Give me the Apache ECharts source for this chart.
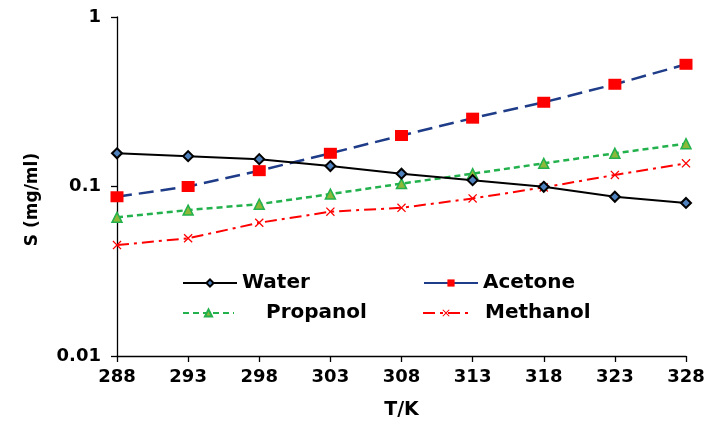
<!DOCTYPE html>
<html>
<head>
<meta charset="utf-8">
<script src="https://cdn.jsdelivr.net/npm/echarts@6/dist/echarts.min.js"></script>
<style>
  html, body { margin: 0; padding: 0; background: #fff; }
  #chart { width: 708px; height: 431px; }
</style>
</head>
<body>
<div id="chart"></div>
<script>
// Temperatures (K) and solubility S (mg/ml) in each solvent
const temperatures = [288, 293, 298, 303, 308, 313, 318, 323, 328];
const water    = [0.157, 0.151, 0.145, 0.132, 0.119, 0.109, 0.0996, 0.087, 0.080];
const acetone  = [0.087, 0.100, 0.124, 0.157, 0.200, 0.253, 0.314, 0.401, 0.526];
const propanol = [0.0658, 0.0726, 0.0787, 0.0902, 0.104, 0.119, 0.137, 0.157, 0.179];
const methanol = [0.0451, 0.0495, 0.0611, 0.0710, 0.0749, 0.085, 0.0988, 0.117, 0.137];

const FONT = 'DejaVu Sans';
const pairs = vals => temperatures.map((t, i) => [t, vals[i]]);
const crossPath = 'path://M0,1 L1,0 L5,4 L9,0 L10,1 L6,5 L10,9 L9,10 L5,6 L1,10 L0,9 L4,5 Z';

const chart = echarts.init(document.getElementById('chart'), null, { renderer: 'canvas' });

// One legend block per series so each entry can sit in its own spot
function legendAt(name, left, top, iconWidth, extraPad, lineStyle) {
  const lg = {
    data: [name],
    left: left, top: top,
    orient: 'horizontal',
    itemWidth: iconWidth, itemHeight: 9,
    padding: 0,
    selectedMode: false,
    textStyle: {
      fontFamily: FONT, fontWeight: 'bold', fontSize: 20, color: '#000',
      padding: [0, 0, 0, extraPad || 0]
    }
  };
  if (lineStyle) lg.lineStyle = lineStyle;
  return lg;
}

chart.setOption({
  animation: false,
  backgroundColor: '#fff',
  grid: { left: 117, right: 22, top: 17, bottom: 75 },
  legend: [
    legendAt('Water', 182, 273, 54, 0),
    legendAt('Acetone', 423, 273, 54, 0, { type: 'solid' }),
    legendAt('Propanol', 182, 303, 51, 27),
    legendAt('Methanol', 422, 303, 46, 11)
  ],
  xAxis: {
    type: 'value', min: 288, max: 328, interval: 5,
    name: 'T/K', nameLocation: 'middle', nameGap: 45,
    nameTextStyle: { fontFamily: FONT, fontWeight: 'bold', fontSize: 19, color: '#000' },
    axisLine: { show: true, lineStyle: { color: '#000', width: 1.3 } },
    axisTick: { show: true, length: 6, lineStyle: { color: '#000', width: 1.3 } },
    axisLabel: { fontFamily: FONT, fontWeight: 'bold', fontSize: 18, color: '#000', margin: 12 },
    splitLine: { show: false }
  },
  yAxis: {
    type: 'log', logBase: 10, min: 0.01, max: 1,
    name: 'S (mg/ml)', nameLocation: 'middle', nameGap: 76,
    nameTextStyle: {
      fontFamily: FONT, fontWeight: 'bold', fontSize: 17, color: '#000',
      padding: [0, 26, 0, 0]
    },
    axisLine: { show: true, lineStyle: { color: '#000', width: 1.3 } },
    axisTick: { show: true, length: 6, lineStyle: { color: '#000', width: 1.3 } },
    minorTick: { show: false },
    axisLabel: {
      fontFamily: FONT, fontWeight: 'bold', fontSize: 18, color: '#000', margin: 16,
      formatter: v => String(+v.toPrecision(3))
    },
    splitLine: { show: false }
  },
  series: [
    {
      name: 'Water', type: 'line', data: pairs(water),
      symbol: 'diamond', symbolSize: 10,
      lineStyle: { color: '#000', width: 2 },
      itemStyle: { color: '#4f81bd', borderColor: '#000', borderWidth: 2 },
      z: 3
    },
    {
      name: 'Acetone', type: 'line', data: pairs(acetone),
      symbol: 'rect', symbolSize: [13, 11],
      lineStyle: { color: '#1f3c88', width: 2.5, type: [15, 7] },
      itemStyle: { color: '#ff0000', borderWidth: 0 },
      z: 2
    },
    {
      name: 'Propanol', type: 'line', data: pairs(propanol),
      symbol: 'triangle', symbolSize: 10,
      lineStyle: { color: '#22b14c', width: 2.5, type: [6, 4] },
      itemStyle: { color: '#8db83a', borderColor: '#22b14c', borderWidth: 1.5 },
      z: 2
    },
    {
      name: 'Methanol', type: 'line', data: pairs(methanol),
      symbol: crossPath, symbolSize: 9,
      lineStyle: { color: '#ff0000', width: 2, type: [12, 5, 3, 5] },
      itemStyle: { color: '#ff0000', borderWidth: 0 },
      z: 2
    }
  ]
});
</script>
</body>
</html>
